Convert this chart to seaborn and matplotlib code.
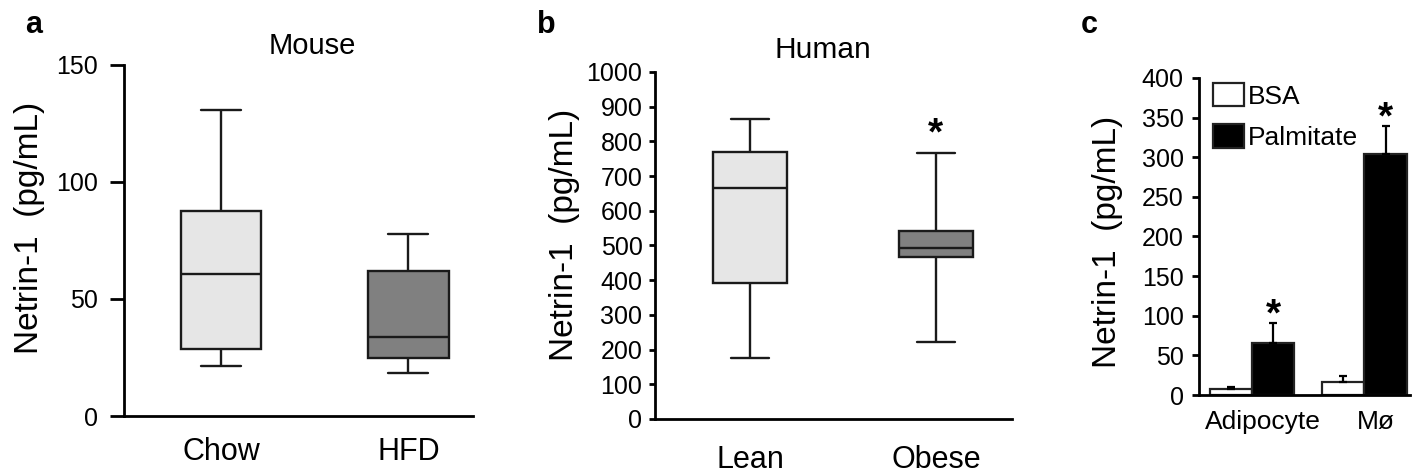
import numpy as np
import pandas as pd
import seaborn as sns
import matplotlib.pyplot as plt
from matplotlib.transforms import ScaledTranslation

# a - mouse plasma netrin-1, five-number summaries (min, q1, median, q3, max)
mouse_groups = ['Chow', 'HFD']
chow_stats = [21.5, 28.6, 60.7, 87.6, 130.8]
hfd_stats = [18.4, 24.8, 33.7, 62.0, 77.8]

# b - human plasma netrin-1
human_groups = ['Lean', 'Obese']
lean_stats = [177, 392, 665, 769, 864]
obese_stats = [223, 467, 492, 542, 766]

# c - cultured cells, mean and upper error
cell_types = ['Adipocyte', 'Mø']
treatments = ['BSA', 'Palmitate']
bsa_mean = [8, 17]
bsa_err = [2, 7]
palm_mean = [65, 304]
palm_err = [26, 36]

sns.set_style('ticks')
plt.rcParams['font.family'] = ['Liberation Sans', 'DejaVu Sans']
plt.rcParams['text.color'] = 'black'
plt.rcParams['axes.labelcolor'] = 'black'
plt.rcParams['xtick.color'] = 'black'
plt.rcParams['ytick.color'] = 'black'

light = '#e6e6e6'
dark = '#808080'
line = '#1a1a1a'

fig = plt.figure(figsize=(14.17, 4.73), dpi=100)
ax_a = fig.add_axes([0.0875, 0.1205, 0.2465, 0.7421])
ax_b = fig.add_axes([0.4622, 0.1142, 0.2520, 0.7336])
ax_c = fig.add_axes([0.8461, 0.1649, 0.1489, 0.6702])

# boxes: each group's five numbers, whiskers at min/max
df_a = pd.DataFrame({'group': np.repeat(mouse_groups, 5),
                     'value': chow_stats + hfd_stats})
df_b = pd.DataFrame({'group': np.repeat(human_groups, 5),
                     'value': lean_stats + obese_stats})

sns.boxplot(data=df_a, x='group', y='value', hue='group', palette=[light, dark],
            whis=(0, 100), width=0.43, linecolor=line, linewidth=1.7,
            legend=False, ax=ax_a)
sns.boxplot(data=df_b, x='group', y='value', hue='group', palette=[light, dark],
            whis=(0, 100), width=0.40, linecolor=line, linewidth=1.7,
            legend=False, ax=ax_b)

ax_a.set_ylim(0, 150)
ax_a.set_yticks([0, 50, 100, 150])
ax_a.set_xlim(-0.519, 1.347)
ax_b.set_ylim(0, 1000)
ax_b.set_yticks(range(0, 1001, 100))
ax_b.set_xlim(-0.511, 1.409)

# c - bars
df_c = pd.DataFrame({'cell': cell_types * 2,
                     'treatment': np.repeat(treatments, 2),
                     'value': bsa_mean + palm_mean})
sns.barplot(data=df_c, x='cell', y='value', hue='treatment',
            palette={'BSA': 'white', 'Palmitate': 'black'},
            edgecolor='#222222', linewidth=1.6, errorbar=None, width=0.75,
            ax=ax_c)
for cont, errs in zip(ax_c.containers, [bsa_err, palm_err]):
    for bar, e in zip(cont, errs):
        x = bar.get_x() + bar.get_width() / 2
        ax_c.errorbar(x, bar.get_height(), yerr=[[0], [e]], color='black',
                      elinewidth=1.6, capsize=3, capthick=1.6, zorder=1)

ax_c.set_ylim(0, 400)
ax_c.set_yticks(range(0, 401, 50))
ax_c.set_xlim(-0.471, 1.404)

# significance stars
ax_b.annotate('*', (1, obese_stats[-1]), xytext=(0, 6), textcoords='offset points',
              ha='center', va='baseline', fontsize=28, fontweight='bold')
for bar, e in zip(ax_c.containers[1], palm_err):
    ax_c.annotate('*', (bar.get_x() + bar.get_width() / 2, bar.get_height() + e),
                  xytext=(0, -2), textcoords='offset points',
                  ha='center', va='baseline', fontsize=28, fontweight='bold')

leg = ax_c.legend(loc='upper left', bbox_to_anchor=(0.065, 0.985), frameon=False,
                  fontsize=19, handlelength=1.2, handleheight=1.0,
                  handletextpad=0.15, labelspacing=0.6, borderaxespad=0,
                  borderpad=0)

for ax in [ax_a, ax_b, ax_c]:
    sns.despine(ax=ax)
    ax.spines['left'].set_linewidth(2)
    ax.spines['bottom'].set_linewidth(2)
    ax.spines['left'].set_color('black')
    ax.spines['bottom'].set_color('black')
    ax.set_xlabel('')
    ax.set_ylabel('Netrin-1  (pg/mL)', fontsize=24)
    ax.tick_params(axis='x', length=0)
    ax.tick_params(axis='y', width=2, color='black')

ax_a.tick_params(axis='y', length=10, pad=9, labelsize=18)
ax_a.tick_params(axis='x', pad=15, labelsize=22)
ax_b.tick_params(axis='y', length=4, pad=5, labelsize=18)
ax_b.tick_params(axis='x', pad=19, labelsize=22)
ax_c.tick_params(axis='y', length=5, pad=6, labelsize=18)
ax_c.tick_params(axis='x', pad=11, labelsize=19)

# cell-type labels sit a little right of the group centres
for lab in ax_c.get_xticklabels():
    lab.set_transform(lab.get_transform() + ScaledTranslation(8 / 72, 0, fig.dpi_scale_trans))

ax_a.yaxis.set_label_coords(-0.226, 0.536)
ax_b.yaxis.set_label_coords(-0.21, 0.53)
ax_c.yaxis.set_label_coords(-0.36, 0.483)

ax_a.text(0.539, 1.031, 'Mouse', transform=ax_a.transAxes, ha='center',
          va='baseline', fontsize=21)
ax_b.text(0.471, 1.040, 'Human', transform=ax_b.transAxes, ha='center',
          va='baseline', fontsize=21.5)

for lab, xx in [('a', 0.018), ('b', 0.379), ('c', 0.763)]:
    fig.text(xx, 0.947, lab, fontsize=22, fontweight='bold', va='center')

fig.savefig('out.png', dpi=100)
